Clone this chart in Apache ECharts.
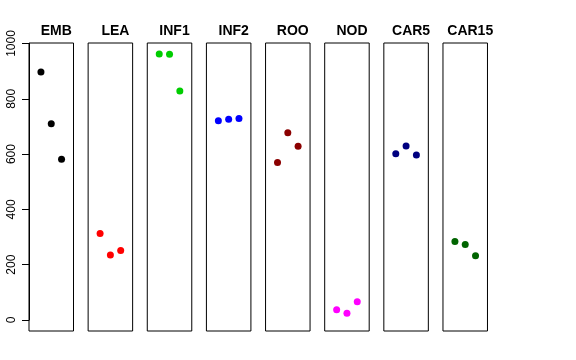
<!DOCTYPE html>
<html><head><meta charset="utf-8">
<script src="https://cdn.jsdelivr.net/npm/echarts@6/dist/echarts.min.js"></script>
<style>html,body{margin:0;padding:0;background:#fff}#c{width:576px;height:360px}</style>
</head><body><div id="c"></div>
<script>
const categories = ['EMB','LEA','INF1','INF2','ROO','NOD','CAR5','CAR15'];
const colors = ['#000000','#ff0000','#00cd00','#0000ff','#8b0000','#ff00ff','#000080','#006400'];
const valEMB = [897, 710, 581];
const valLEA = [313, 235, 251];
const valINF1 = [962, 961, 828];
const valINF2 = [721, 726, 729];
const valROO = [570, 677, 628];
const valNOD = [37, 24, 66];
const valCAR5 = [601, 629, 597];
const valCAR15 = [284, 273, 232];
const seriesValues = [valEMB, valLEA, valINF1, valINF2, valROO, valNOD, valCAR5, valCAR15];
const yTicks = [0, 200, 400, 600, 800, 1000];

(function () {
const chart = echarts.init(document.getElementById('c'), null, {renderer:'canvas'});
const font = 'Liberation Sans, Helvetica, Arial, sans-serif';
const left0 = 29, pitch = 59.14, pw = 44.5, gTop = 43, ph = 288;
const grids = [], xAxes = [], yAxes = [], series = [], titles = [];
categories.forEach((c, i) => {
  const l = left0 + i * pitch;
  grids.push({left: l, top: gTop, width: pw, height: ph, show: true, borderColor: '#000', borderWidth: 1, backgroundColor: 'transparent'});
  xAxes.push({type: 'value', gridIndex: i, min: -0.16, max: 4.16, show: false});
  yAxes.push({type: 'value', gridIndex: i, min: -40, max: 1002, show: false});
  series.push({type: 'scatter', xAxisIndex: i, yAxisIndex: i, symbol: 'circle', symbolSize: 7,
    itemStyle: {color: colors[i], opacity: 1},
    data: seriesValues[i].map((v, k) => [k + 1, v]), animation: false});
  titles.push({text: c, left: l + pw / 2, top: 19, textAlign: 'center',
    textStyle: {fontFamily: font, fontWeight: 'bold', fontSize: 14, color: '#000'}});
});
grids.push({left: left0, top: 43.5, width: 1, height: 276.5, show: false});
xAxes.push({type: 'value', gridIndex: 8, show: false});
yAxes.push({type: 'value', gridIndex: 8, min: yTicks[0], max: yTicks[yTicks.length - 1], interval: 200,
  axisLine: {show: true, lineStyle: {color: '#000', width: 1}},
  axisTick: {show: true, length: 7, lineStyle: {color: '#000'}},
  splitLine: {show: false},
  axisLabel: {rotate: 90, margin: 11, fontFamily: font, fontSize: 12, color: '#000',
    formatter: v => String(v)}});

chart.setOption({
  animation: false,
  backgroundColor: '#fff',
  title: titles,
  grid: grids, xAxis: xAxes, yAxis: yAxes, series: series
});
})();
</script></body></html>
